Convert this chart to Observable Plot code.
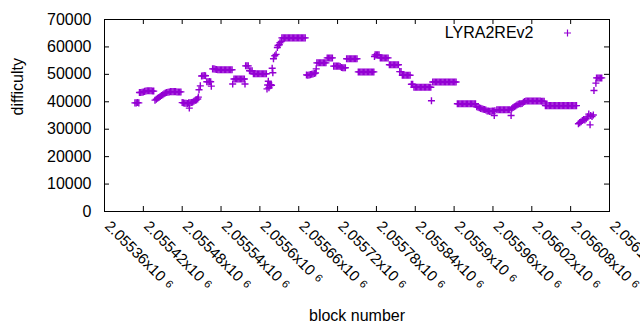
<!DOCTYPE html>
<html><head><meta charset="utf-8">
<script src="https://cdn.jsdelivr.net/npm/d3@7"></script>
<script src="https://cdn.jsdelivr.net/npm/@observablehq/plot@0.6"></script>
<style>body{margin:0;background:#fff}</style>
</head><body><div id="chart"></div>
<script>
const blockNumber = [
  2055407,2055409,2055411,2055413,
  2055414,2055416,2055418,2055420,2055422,2055424,2055426,2055428,2055430,2055432,2055434,2055436,
  2055438,2055440,2055442,2055444,2055446,2055448,2055450,2055452,2055454,2055456,
  2055458,2055460,2055462,2055464,2055466,2055468,2055470,2055472,2055474,2055476,2055478,
  2055480,2055482,2055484,2055486,2055488,2055490,2055491,2055492,2055494,2055496,2055498,2055500,2055502,2055504,2055505,
  2055506,2055508,2055510,2055512,2055514,2055516,2055518,2055520,2055522,2055524,2055525,
  2055527,2055529,2055531,2055533,2055535,2055537,2055539,2055541,2055543,2055545,2055547,2055549,2055551,2055553,2055555,2055557,
  2055558,
  2055560,2055562,2055564,2055566,2055568,2055570,2055572,2055574,2055576,2055577,
  2055578,2055580,2055582,
  2055584,2055586,2055588,
  2055590,2055592,2055594,2055596,2055598,2055600,2055602,2055604,2055606,2055608,2055610,
  2055611,2055612,2055613,2055614,2055615,2055616,2055617,2055618,2055619,2055620,
  2055621,2055623,2055625,2055627,2055628,2055630,2055631,2055633,
  2055634,2055636,2055638,2055640,2055642,2055644,2055646,2055648,2055650,2055652,2055654,2055656,2055658,2055660,2055662,2055664,2055666,2055668,2055670,
  2055672,2055674,2055676,2055678,2055680,2055682,2055684,2055686,2055687,
  2055688,2055690,2055692,2055694,2055696,2055698,2055700,2055702,
  2055704,2055706,2055708,2055710,2055712,
  2055714,2055716,2055718,2055720,2055722,2055724,2055726,2055728,2055730,2055732,
  2055734,2055736,2055738,2055740,2055742,2055744,2055746,2055748,2055750,
  2055752,2055754,2055756,2055758,2055760,2055762,2055764,2055766,2055768,2055770,2055772,2055774,2055776,
  2055777,2055778,2055780,2055782,2055784,
  2055786,2055788,2055790,2055792,2055794,2055796,2055798,
  2055800,2055802,2055804,2055806,2055808,2055810,2055812,2055814,
  2055816,2055818,2055820,2055822,2055824,2055826,2055828,2055830,2055832,
  2055834,2055836,
  2055838,2055840,2055842,2055844,2055846,2055848,2055850,2055852,2055854,2055856,2055858,2055860,2055862,2055864,
  2055865,
  2055867,2055869,2055871,2055873,2055875,2055877,2055879,2055881,2055883,2055885,2055887,2055889,2055891,2055893,2055895,2055897,2055899,2055901,2055903,
  2055905,2055907,2055909,2055911,2055913,2055915,2055917,2055919,2055921,2055923,2055925,2055927,2055929,2055931,2055933,
  2055935,2055937,2055939,2055941,2055943,2055945,2055947,2055949,
  2055951,2055953,2055955,2055957,2055959,2055961,2055962,2055963,
  2055966,2055968,2055970,2055972,2055974,2055976,2055978,2055980,2055982,2055984,2055986,2055988,
  2055989,2055991,2055993,2055995,2055997,2055999,2056001,2056003,2056005,2056007,2056009,2056011,2056013,2056015,2056017,
  2056019,2056021,2056023,2056025,2056027,2056029,2056031,2056033,2056035,2056037,2056039,
  2056041,2056043,2056045,2056047,2056049,2056051,2056053,2056055,2056057,2056059,2056061,2056063,2056065,2056067,2056069,2056071,2056073,2056075,2056077,2056079,2056081,2056083,2056085,2056087,2056089,
  2056092,2056094,2056096,2056098,2056100,2056102,2056104,2056106,2056108,2056110,2056111,2056113,2056115,
  2056116,2056119,2056120,2056122,2056124,2056126,2056128
];
const difficulty = [
  39600,39600,39700,39600,
  43400,43400,43500,43600,43800,43900,44000,44000,44000,44000,43900,43900,
  40600,40900,41300,41600,41900,42300,42600,42900,43200,43400,
  43500,43600,43700,43700,43700,43700,43700,43600,43600,43600,43600,
  39700,39600,39500,39500,39400,39600,37700,39600,39700,39800,40200,40500,40700,41000,41700,
  44400,45800,49400,49500,49600,49500,47300,47300,47400,47300,45700,
  52000,52000,51900,51800,51700,51700,51700,51700,51700,51700,51700,51700,51700,51700,51700,51700,
  46500,
  48300,48300,48300,48300,48300,48300,48300,48300,48300,46500,
  53100,53100,53100,
  51300,51300,51300,
  50200,50200,50200,50200,50200,50200,50200,50200,50200,50200,50200,
  44700,46100,47500,45100,46000,45900,46200,46000,52200,50600,
  55700,56800,57300,59800,60500,60800,61500,62000,
  63300,63300,63300,63300,63300,63300,63300,63300,63300,63300,63300,63300,63300,63300,63300,63300,63300,63300,63300,
  49800,49700,49800,49900,50000,50100,50300,50500,52000,
  54200,54200,54200,54200,54200,54200,54200,54200,
  56000,56000,56000,56000,56000,
  53000,53000,53000,53000,53000,52900,52500,52400,52400,52400,
  55700,55700,55700,55700,55700,55700,55700,55700,55700,
  50900,50900,50900,50900,50900,50900,50900,50900,50900,50900,50900,50900,50900,
  56500,57100,57100,57100,57100,
  56000,56000,56000,56000,56000,56000,56000,
  53500,53500,53500,53500,53500,53500,53500,53500,
  51000,51000,49700,49700,49700,49700,49700,49700,49700,
  46400,46400,
  45300,45300,45300,45300,45300,45300,45300,45300,45300,45300,45300,45300,45300,45300,
  40400,
  47200,47200,47200,47200,47200,47200,47200,47200,47200,47200,47200,47200,47200,47200,47200,47200,47200,47200,47200,
  39300,39300,39300,39300,39300,39300,39300,39300,39300,39300,39300,39300,39300,39300,39300,
  38200,38000,37800,37600,37500,37300,37200,37000,
  36600,36600,36500,36500,36600,36600,35000,36700,
  37100,37100,37100,37100,37100,37100,37100,37100,37100,37100,37100,35000,
  37500,37900,38200,38500,38800,39100,39300,39300,39400,39800,40100,40300,40300,40300,40300,
  40300,40300,40300,40300,40300,40300,40300,40300,40200,40200,40200,
  38600,38600,38600,38600,38600,38600,38600,38600,38600,38600,38600,38600,38600,38600,38600,38600,38600,38600,38600,38600,38600,38600,38600,38600,38600,
  32000,32400,32700,33200,33500,33400,33800,34500,35500,31600,35000,34600,35200,
  44100,46800,48700,48700,48700,48700,48700
];
const xTicks = [2055360,2055420,2055480,2055540,2055600,2055660,2055720,2055780,2055840,2055900,2055960,2056020,2056080,2056140];
const yTicks = [0,10000,20000,30000,40000,50000,60000,70000];
const seriesName = "LYRA2REv2";
const xLabel = "block number";
const yLabel = "difficulty";

const W = 640, H = 330, mL = 104, mR = 31, mT = 19, mB = 119;
const plotW = W - mL - mR, plotH = H - mT - mB;
const purple = "#9400d3";
const pts = blockNumber.map((b, i) => ({b, d: difficulty[i]}));

const chart = Plot.plot({
  width: W, height: H,
  marginLeft: mL, marginRight: mR, marginTop: mT, marginBottom: mB,
  style: {fontFamily: "'Liberation Sans', Arial, sans-serif", fontSize: "16px", background: "#fff", color: "#000"},
  x: {domain: [2055360, 2056140]},
  y: {domain: [0, 70000]},
  marks: [
    Plot.tickX(xTicks, {x: d => d, insetTop: plotH - 5, stroke: "#000"}),
    Plot.tickX(xTicks, {x: d => d, insetBottom: plotH - 5, stroke: "#000"}),
    Plot.tickY(yTicks, {y: d => d, insetRight: plotW - 5, stroke: "#000"}),
    Plot.tickY(yTicks, {y: d => d, insetLeft: plotW - 5, stroke: "#000"}),
    Plot.axisY(yTicks, {tickSize: 0, tickPadding: 13, label: null, tickFormat: d => String(d)}),
    Plot.axisX(xTicks, {tickSize: 0, tickPadding: 12, dx: 3, tickRotate: 45, label: null, fontSize: 15,
      tickFormat: d => `${+(d / 1e6).toPrecision(6)}x10^6`}),
    Plot.dot(pts, {x: "b", y: "d", symbol: "plus", r: 2.4, stroke: purple, strokeWidth: 1.4}),
    Plot.frame({stroke: "#000"}),
    Plot.text([seriesName], {frameAnchor: "top-right", dx: -76, dy: 13.5, textAnchor: "end", lineAnchor: "middle"}),
    Plot.dot([seriesName], {frameAnchor: "top-right", dx: -42, dy: 13.5, symbol: "plus", r: 2.4, stroke: purple, strokeWidth: 1.2}),
    Plot.text([xLabel], {frameAnchor: "bottom", dy: 104, lineAnchor: "middle"}),
    Plot.text([yLabel], {frameAnchor: "left", dx: -87, rotate: -90, lineAnchor: "middle"})
  ]
});

// render "x10^6" with a small raised 6, as gnuplot does
chart.querySelectorAll('g[aria-label="x-axis tick label"] text').forEach(t => {
  const s = t.textContent;
  if (s.endsWith("^6")) {
    t.textContent = s.slice(0, -2);
    const sup = document.createElementNS("http://www.w3.org/2000/svg", "tspan");
    sup.textContent = "6";
    sup.setAttribute("font-size", "11");
    sup.setAttribute("dx", "5");
    sup.setAttribute("dy", "-2");
    t.appendChild(sup);
  }
});
document.getElementById("chart").appendChild(chart);
</script>
</body></html>
